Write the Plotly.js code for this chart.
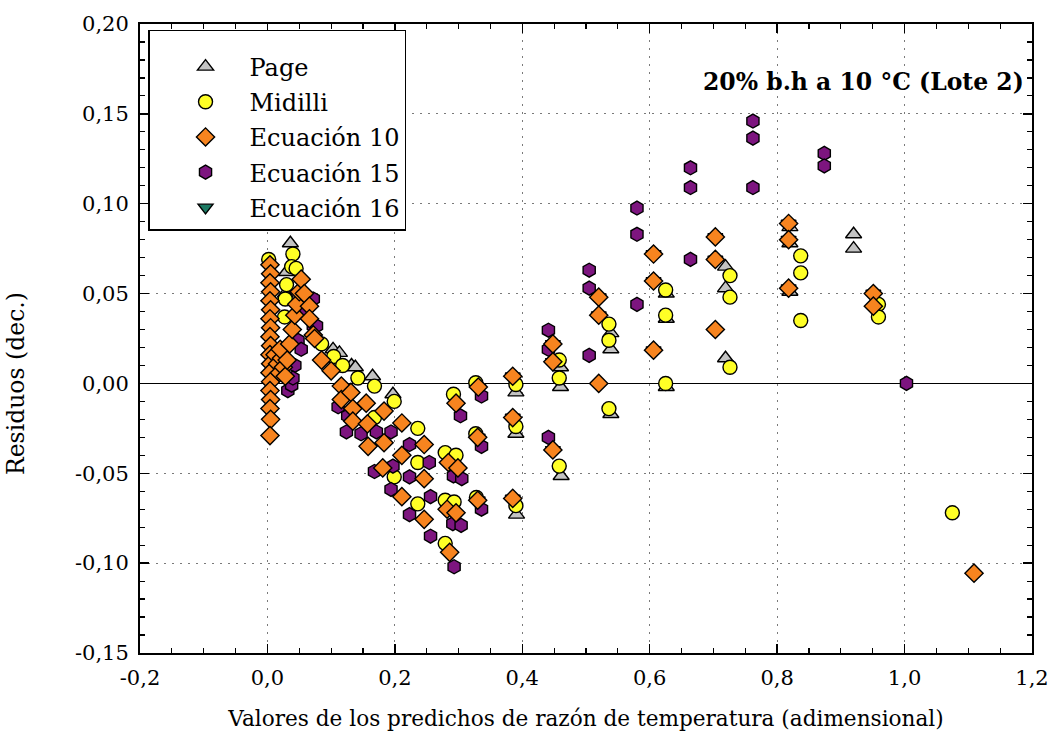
<!DOCTYPE html>
<html>
<head>
<meta charset="utf-8">
<script src="https://cdn.plot.ly/plotly-3.0.1.min.js"></script>
<style>html,body{margin:0;padding:0;background:#fff;}#chart{width:1054px;height:756px;}</style>
</head>
<body>
<div id="chart"></div>
<script>
// ---------- tick labels ----------
const xTickVals = [-0.2, 0.0, 0.2, 0.4, 0.6, 0.8, 1.0, 1.2];
const xTickText = ['-0,2', '0,0', '0,2', '0,4', '0,6', '0,8', '1,0', '1,2'];
const yTickVals = [-0.15, -0.10, -0.05, 0.00, 0.05, 0.10, 0.15, 0.20];
const yTickText = ['-0,15', '-0,10', '-0,05', '0,00', '0,05', '0,10', '0,15', '0,20'];

// ---------- series names ----------
const seriesNames = ['Page', 'Midilli', 'Ecuación 10', 'Ecuación 15', 'Ecuación 16'];

// ---------- Page ----------
const pageX = [0.036, 0.030, 0.028,
  0.103, 0.113, 0.132, 0.138, 0.165, 0.197,
  0.390, 0.390, 0.391,
  0.460, 0.460, 0.461,
  0.539, 0.539, 0.539,
  0.626, 0.626, 0.626,
  0.719, 0.719, 0.719,
  0.820, 0.820, 0.820,
  0.920, 0.920];
const pageY = [0.078, 0.062, 0.050,
  0.019, 0.017, 0.010, 0.009, 0.004, -0.006,
  -0.005, -0.028, -0.073,
  0.009, -0.002, -0.0515,
  0.028, 0.019, -0.017,
  0.050, 0.036, -0.002,
  0.065, 0.053, 0.014,
  0.087, 0.078, 0.051,
  0.083, 0.075];

// ---------- Midilli ----------
const midilliX = [0.002, 0.040, 0.038, 0.045, 0.030, 0.028, 0.027, 0.085,
  0.104, 0.118, 0.142, 0.168, 0.168, 0.199, 0.236, 0.199, 0.236, 0.279, 0.296,
  0.236, 0.279, 0.293, 0.279, 0.292,
  0.327, 0.327, 0.328,
  0.390, 0.390, 0.390,
  0.458, 0.458, 0.458,
  0.536, 0.536, 0.536,
  0.625, 0.625, 0.625,
  0.726, 0.726, 0.726,
  0.837, 0.837, 0.837,
  0.959, 0.959,
  1.075];
const midilliY = [0.069, 0.072, 0.065, 0.064, 0.055, 0.047, 0.037, 0.022,
  0.015, 0.010, 0.003, -0.0015, -0.019, -0.010, -0.025, -0.052, -0.044, -0.0385, -0.040,
  -0.067, -0.065, -0.066, -0.089, -0.006,
  0.0004, -0.028, -0.0635,
  -0.0006, -0.024, -0.068,
  0.013, 0.003, -0.046,
  0.033, 0.024, -0.014,
  0.052, 0.038, 0.000,
  0.060, 0.048, 0.009,
  0.071, 0.0615, 0.035,
  0.044, 0.037,
  -0.072];

// ---------- Ecuación 10 ----------
const ec10X = [0.004, 0.005, 0.004, 0.005, 0.004, 0.005, 0.004, 0.005, 0.004, 0.005,
  0.004, 0.005, 0.004, 0.005, 0.004, 0.005, 0.004, 0.005, 0.004,
  0.012, 0.016, 0.019, 0.022, 0.025, 0.020,
  0.028, 0.031, 0.035, 0.039, 0.043, 0.046, 0.050,
  0.053, 0.058, 0.066, 0.066, 0.072, 0.074, 0.085, 0.100, 0.116, 0.116,
  0.131, 0.134, 0.134, 0.155, 0.157, 0.158, 0.183, 0.183, 0.181,
  0.211, 0.211, 0.211, 0.246, 0.246, 0.246,
  0.284, 0.299, 0.282, 0.296, 0.286, 0.296,
  0.331, 0.330, 0.330,
  0.385, 0.385, 0.385,
  0.448, 0.448, 0.448,
  0.520, 0.520, 0.520,
  0.606, 0.606, 0.606,
  0.703, 0.703, 0.703,
  0.818, 0.818, 0.818,
  0.951, 0.951,
  1.109];
const ec10Y = [0.066, 0.061, 0.056, 0.051, 0.046, 0.041, 0.036, 0.031, 0.026, 0.021,
  0.016, 0.011, 0.006, 0.001, -0.004, -0.009, -0.014, -0.020, -0.029,
  0.016, 0.011, 0.006, 0.014, 0.009, 0.019,
  0.004, 0.013, 0.022, 0.030, 0.038, 0.044, 0.051,
  0.058, 0.050, 0.043, 0.036, 0.027, 0.025, 0.013, 0.007, -0.0015, -0.009,
  -0.005, -0.014, -0.021, -0.011, -0.0225, -0.035, -0.0154, -0.033, -0.047,
  -0.022, -0.040, -0.063, -0.034, -0.053, -0.0756,
  -0.044, -0.047, -0.070, -0.072, -0.094, -0.011,
  -0.002, -0.030, -0.065,
  0.004, -0.019, -0.064,
  0.022, 0.012, -0.037,
  0.048, 0.038, 0.000,
  0.072, 0.057, 0.0185,
  0.0815, 0.069, 0.030,
  0.089, 0.080, 0.053,
  0.050, 0.043,
  -0.1056];

// ---------- Ecuación 15 ----------
const ec15X = [0.032, 0.038, 0.043, 0.040, 0.048, 0.053, 0.072, 0.072, 0.077, 0.060,
  0.111, 0.124, 0.126, 0.147, 0.171, 0.194, 0.168, 0.197, 0.223, 0.254,
  0.194, 0.223, 0.256, 0.223, 0.256, 0.292, 0.305, 0.291, 0.304, 0.293, 0.303,
  0.336, 0.336, 0.336,
  0.441, 0.441, 0.441,
  0.505, 0.505, 0.505,
  0.580, 0.580, 0.580,
  0.664, 0.664, 0.664,
  0.762, 0.762, 0.762,
  0.874, 0.874,
  1.003];
const ec15Y = [-0.004, -0.001, 0.010, 0.003, 0.024, 0.019, 0.047, 0.032, 0.032, 0.040,
  -0.013, -0.027, -0.018, -0.028, -0.027, -0.027, -0.049, -0.046, -0.034, -0.044,
  -0.059, -0.052, -0.063, -0.073, -0.085, -0.0515, -0.053, -0.078, -0.079, -0.102, -0.018,
  -0.007, -0.035, -0.070,
  0.0296, 0.019, -0.030,
  0.063, 0.053, 0.0156,
  0.0976, 0.083, 0.044,
  0.120, 0.109, 0.069,
  0.146, 0.1365, 0.109,
  0.128, 0.121,
  0.000];

// ---------- Ecuación 16 ----------
const ec16X = [0.331, 0.330, 0.330, 0.385, 0.385, 0.385, 0.448, 0.448, 0.448,
  0.520, 0.520, 0.606, 0.606, 0.606, 0.703, 0.703, 0.818, 0.818, 0.818, 0.951];
const ec16Y = [-0.002, -0.030, -0.065, 0.004, -0.019, -0.064, 0.022, 0.012, -0.037,
  0.048, 0.038, 0.072, 0.057, 0.0185, 0.0815, 0.069, 0.089, 0.080, 0.053, 0.050];

const outline = {color: '#000', width: 1.4};
function mk(name, xs, ys, symbol, color, size, rank) {
  return {
    type: 'scatter', mode: 'markers', name: name, x: xs, y: ys,
    legendrank: rank, legendgroup: 'g' + rank,
    marker: {symbol: symbol, color: color, size: size, line: outline},
    hoverinfo: 'x+y'
  };
}

// drawing order: bottom to top
const traces = [
  mk(seriesNames[4], ec16X, ec16Y, 'triangle-down', '#1c7a63', 13, 5),
  mk(seriesNames[0], pageX, pageY, 'triangle-up', '#c3c3c3', 14, 1),
  mk(seriesNames[1], midilliX, midilliY, 'circle', '#ffff26', 14, 2),
  mk(seriesNames[3], ec15X, ec15Y, 'hexagon', '#7d157f', 14, 4),
  mk(seriesNames[2], ec10X, ec10Y, 'diamond', '#f7841f', 14, 3)
];

const serif = "DejaVu Serif";
const axisCommon = {
  tickmode: 'array', ticks: 'inside', ticklen: 9, tickwidth: 1.5, tickcolor: '#000',
  showline: true, linecolor: '#000', linewidth: 2, mirror: 'ticks',
  showgrid: true, gridcolor: '#7a7a7a', griddash: '2px,6px', gridwidth: 1,
  tickfont: {family: serif, size: 21, color: '#000'},
  ticklabelstandoff: 5
};

const layout = {
  width: 1054, height: 756,
  margin: {l: 140, r: 22, t: 24, b: 103},
  paper_bgcolor: '#fff', plot_bgcolor: '#fff',
  font: {family: serif, size: 21, color: '#000'},
  showlegend: true,
  legend: {
    x: 0.009, y: 0.9905, xanchor: 'left', yanchor: 'top',
    bgcolor: '#fff', bordercolor: '#000', borderwidth: 1.5,
    font: {family: serif, size: 24, color: '#000'},
    title: {text: ' ', font: {family: serif, size: 10}},
    tracegroupgap: 1, indentation: 12, itemwidth: 78
  },
  xaxis: Object.assign({}, axisCommon, {
    range: [-0.2, 1.2], tickvals: xTickVals, ticktext: xTickText, zeroline: false,
    minor: {tickmode: 'linear', tick0: -0.2, dtick: 0.05, ticks: 'inside', ticklen: 5, tickwidth: 1.2, tickcolor: '#000', showgrid: false},
    title: {text: 'Valores de los predichos de razón de temperatura (adimensional)', font: {family: serif, size: 21.6, color: '#000'}, standoff: 22}
  }),
  yaxis: Object.assign({}, axisCommon, {
    range: [-0.15, 0.20], tickvals: yTickVals, ticktext: yTickText,
    zeroline: true, zerolinecolor: '#000', zerolinewidth: 1.5,
    minor: {tickmode: 'linear', tick0: -0.15, dtick: 0.01, ticks: 'inside', ticklen: 5, tickwidth: 1.2, tickcolor: '#000', showgrid: false}
  }),
  annotations: [{
    text: '<b>20% b.h a 10 °C (Lote 2)</b>', xref: 'paper', yref: 'paper',
    x: 0.993, y: 0.908, xanchor: 'right', yanchor: 'middle', showarrow: false,
    font: {family: serif, size: 23.5, color: '#000'}
  }, {
    text: 'Residuos (dec.)', xref: 'paper', yref: 'paper',
    x: -0.139, y: 0.4277, xanchor: 'center', yanchor: 'middle', showarrow: false,
    textangle: -90, font: {family: serif, size: 23.5, color: '#000'}
  }]
};

Plotly.newPlot('chart', traces, layout, {displayModeBar: false, staticPlot: true});
</script>
</body>
</html>
